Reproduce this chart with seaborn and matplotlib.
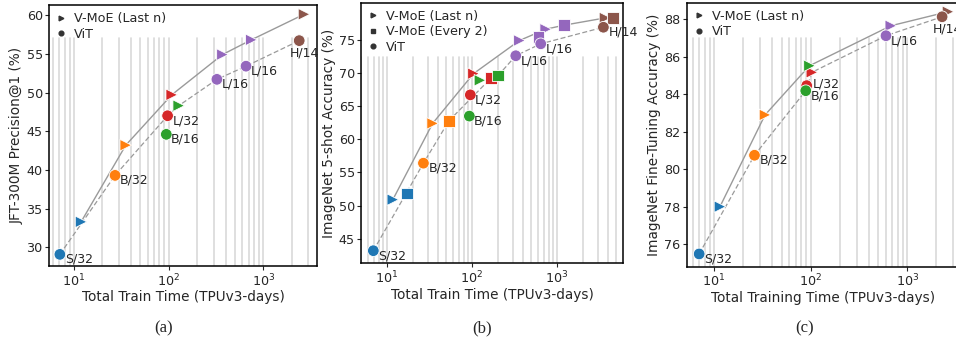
import numpy as np
import pandas as pd
import matplotlib
matplotlib.use("Agg")
import matplotlib.pyplot as plt
from matplotlib.lines import Line2D
import seaborn as sns

# Values.
# Panel (a): JFT-300M precision@1
a_vit_model = ["S/32", "B/32", "L/32", "B/16", "L/16", "L/16", "H/14"]
a_vit_time = [7.1, 27.2, 97.6, 94.6, 324, 658, 2400]
a_vit_acc = [29.1, 39.3, 47.0, 44.6, 51.7, 53.4, 56.7]
a_moe_model = ["S/32", "B/32", "L/32", "B/16", "L/16", "L/16", "H/14"]
a_moe_time = [11.9, 35.3, 108, 128, 371, 748, 2700]
a_moe_acc = [33.3, 43.2, 49.7, 48.3, 54.9, 56.8, 60.1]

# Panel (b): ImageNet 5-shot
b_vit_model = ["S/32", "B/32", "L/32", "B/16", "L/16", "L/16", "H/14"]
b_vit_time = [6.9, 26.8, 95.5, 93, 327, 643, 3510]
b_vit_acc = [43.2, 56.4, 66.7, 63.5, 72.6, 74.4, 76.9]
b_moe_model = ["S/32", "B/32", "L/32", "B/16", "L/16", "L/16", "H/14"]
b_moe_time = [11.7, 34.4, 104, 124, 361, 736, 3670]
b_moe_acc = [50.9, 62.4, 69.9, 68.9, 74.9, 76.6, 78.3]
b_ev2_model = ["S/32", "B/32", "L/32", "B/16", "L/16", "L/16", "H/14"]
b_ev2_time = [17.3, 53.6, 166, 202, 604, 1200, 4520]
b_ev2_acc = [51.8, 62.8, 69.2, 69.6, 75.4, 77.2, 78.3]

# Panel (c): ImageNet fine-tuning
c_vit_model = ["S/32", "B/32", "L/32", "B/16", "L/16", "H/14"]
c_vit_time = [7.0, 26.2, 91, 89, 603, 2300]
c_vit_acc = [75.48, 80.74, 84.45, 84.18, 87.11, 88.12]
c_moe_model = ["S/32", "B/32", "L/32", "B/16", "L/16", "H/14"]
c_moe_time = [11.5, 33.7, 103, 97.3, 677, 2650]
c_moe_acc = [78.0, 82.89, 85.16, 85.51, 87.64, 88.39]

palette = {
    "S/32": "#1f77b4",
    "B/32": "#ff7f0e",
    "B/16": "#2ca02c",
    "L/32": "#d62728",
    "L/16": "#9467bd",
    "H/14": "#8c564b",
}
markers = {"V-MoE (Last n)": ">", "V-MoE (Every 2)": "s", "ViT": "o"}


def make_df(groups):
    frames = []
    for kind, model, t, acc in groups:
        frames.append(pd.DataFrame({"model": model, "time": t, "acc": acc, "kind": kind}))
    return pd.concat(frames, ignore_index=True)


panels = [
    dict(
        df=make_df([
            ("V-MoE (Last n)", a_moe_model, a_moe_time, a_moe_acc),
            ("ViT", a_vit_model, a_vit_time, a_vit_acc),
        ]),
        # frontier lines: (kind, index) pairs
        solid=[("V-MoE (Last n)", i) for i in [0, 1, 2, 4, 5, 6]],
        dashed=[("ViT", 0), ("ViT", 1), ("ViT", 2), ("V-MoE (Last n)", 3),
                ("ViT", 4), ("ViT", 5), ("ViT", 6)],
        rect=[49 / 956, 1 - 266 / 347, 268 / 956, 261 / 347],
        xlim=(5.45, 3700), ylim=(27.6, 61.3), yticks=np.arange(30, 61, 5),
        ylabel="JFT-300M Precision@1 (%)",
        xlabel="Total Train Time (TPUv3-days)",
        kinds=["V-MoE (Last n)", "ViT"], gridtop=0.874,
        hoff={6: (-6.5, -4.3)}, cap="(a)", capx=164,
    ),
    dict(
        df=make_df([
            ("V-MoE (Last n)", b_moe_model, b_moe_time, b_moe_acc),
            ("V-MoE (Every 2)", b_ev2_model, b_ev2_time, b_ev2_acc),
            ("ViT", b_vit_model, b_vit_time, b_vit_acc),
        ]),
        solid=[("V-MoE (Last n)", i) for i in [0, 1, 2, 4, 5]]
        + [("V-MoE (Every 2)", 5), ("V-MoE (Last n)", 6)],
        dashed=[("ViT", 0), ("ViT", 1), ("V-MoE (Every 2)", 1), ("V-MoE (Every 2)", 2),
                ("V-MoE (Every 2)", 3), ("ViT", 4), ("ViT", 5), ("ViT", 6)],
        rect=[361 / 956, 1 - 263.3 / 347, 262 / 956, 260.6 / 347],
        xlim=(4.94, 5970), ylim=(41.3, 80.6), yticks=np.arange(45, 76, 5),
        ylabel="ImageNet 5-shot Accuracy (%)",
        xlabel="Total Train Time (TPUv3-days)",
        kinds=["V-MoE (Last n)", "V-MoE (Every 2)", "ViT"], gridtop=0.79,
        hoff={}, cap="(b)", capx=482,
    ),
    dict(
        df=make_df([
            ("V-MoE (Last n)", c_moe_model, c_moe_time, c_moe_acc),
            ("ViT", c_vit_model, c_vit_time, c_vit_acc),
        ]),
        solid=[("V-MoE (Last n)", i) for i in [0, 1, 3, 4, 5]],
        dashed=[("ViT", 0), ("ViT", 1), ("ViT", 3), ("V-MoE (Last n)", 2),
                ("ViT", 4), ("ViT", 5)],
        rect=[686.7 / 956, 1 - 266.7 / 347, 273 / 956, 264 / 347],
        xlim=(5.2, 3500), ylim=(74.8, 88.87), yticks=np.arange(76, 89, 2),
        ylabel="ImageNet Fine-Tuning Accuracy (%)",
        xlabel="Total Training Time (TPUv3-days)",
        kinds=["V-MoE (Last n)", "ViT"], gridtop=0.867,
        hoff={2: (4.5, 6.0), 5: (-6.5, -4.3)}, cap="(c)", capx=805,
    ),
]

sns.set_style("white")
plt.rcParams["font.family"] = ["DejaVu Sans"]

fig = plt.figure(figsize=(9.56, 3.47), dpi=100)

for p in panels:
    ax = fig.add_axes(p["rect"])
    df = p["df"]
    ax.set_xscale("log")
    ax.set_xlim(*p["xlim"])
    ax.set_ylim(*p["ylim"])

    # vertical grid at every major/minor decade tick
    lo, hi = p["xlim"]
    for k in range(0, 4):
        for m in range(1, 10):
            v = m * 10 ** k
            if lo < v < hi:
                ax.axvline(v, ymax=p["gridtop"], color="#d9d9d9", lw=1.2, zorder=0)

    def pts(seq):
        xs, ys = [], []
        for kind, i in seq:
            sub = df[df["kind"] == kind].reset_index(drop=True)
            xs.append(sub.loc[i, "time"])
            ys.append(sub.loc[i, "acc"])
        return xs, ys

    xs, ys = pts(p["solid"])
    ax.plot(xs, ys, color="#9a9a9a", lw=1.0, ls="-", zorder=1)
    xs, ys = pts(p["dashed"])
    ax.plot(xs, ys, color="#9a9a9a", lw=0.9, ls=(0, (4, 2)), zorder=1)

    sns.scatterplot(
        data=df, x="time", y="acc", hue="model", style="kind",
        palette=palette, markers=markers, s=70, edgecolor="white",
        linewidth=0.6, legend=False, ax=ax, zorder=3,
    )

    vit = df[df["kind"] == "ViT"].reset_index(drop=True)
    for i, r in vit.iterrows():
        off = p["hoff"].get(i, (3.5, 1.0))
        ax.annotate(r["model"], (r["time"], r["acc"]), xytext=off,
                    textcoords="offset points", ha="left", va="top",
                    fontsize=9.0, zorder=4)

    ax.set_yticks(p["yticks"])
    ax.set_xlabel(p["xlabel"], fontsize=9.8, labelpad=1)
    ax.set_ylabel(p["ylabel"], fontsize=9.8, labelpad=2)
    ax.tick_params(axis="both", which="major", labelsize=9.2, length=3,
                   width=0.8, pad=1.5, left=True, bottom=True)
    ax.tick_params(axis="x", which="minor", length=0)
    for sp in ax.spines.values():
        sp.set_color("black")
        sp.set_linewidth(1.1)

    handles = [
        Line2D([], [], ls="none", marker=markers[k], color="#333333",
               markersize=3.4, label=k)
        for k in p["kinds"]
    ]
    ax.legend(handles=handles, loc="upper left", frameon=False, fontsize=9.2,
              handlelength=0.8, handletextpad=0.6, borderaxespad=0.25,
              labelspacing=0.2, borderpad=0.3)

    fig.text(p["capx"] / 956, 0.053, p["cap"], ha="center", va="center",
             fontsize=12, family="Liberation Serif")

fig.savefig("out.png", dpi=100)
